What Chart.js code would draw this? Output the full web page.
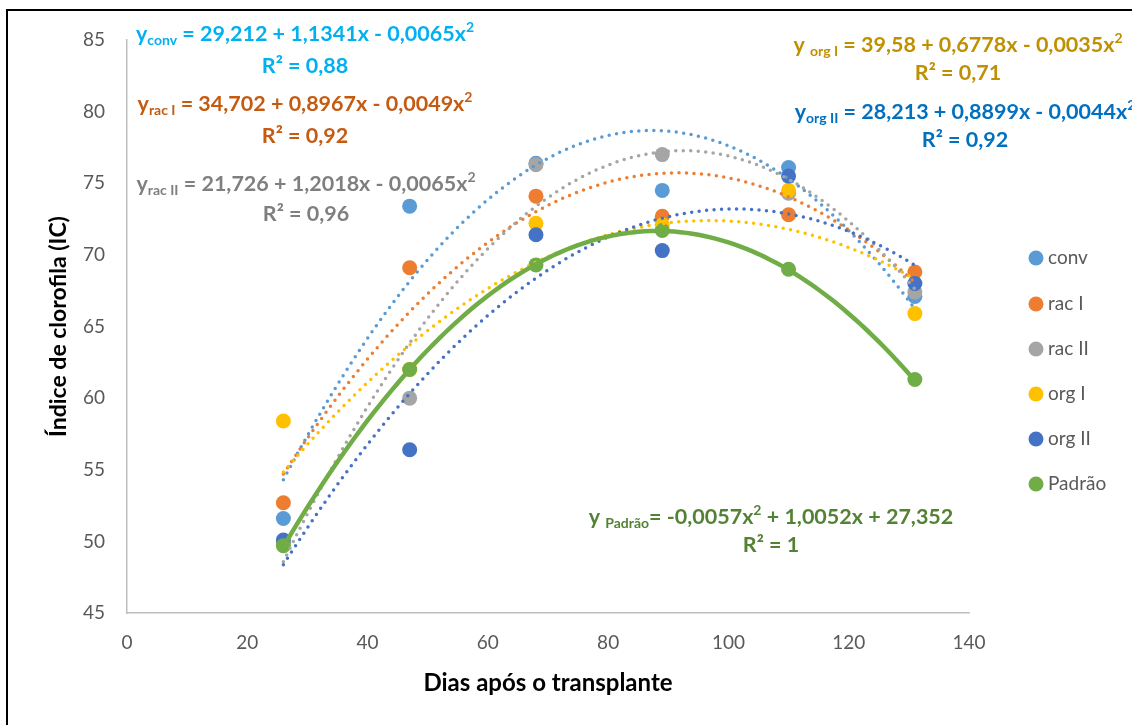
<!DOCTYPE html>
<html>
<head>
<meta charset="utf-8">
<script src="https://cdn.jsdelivr.net/npm/chart.js@4"></script>
<style>
  html, body { margin: 0; padding: 0; background: #fff; overflow: hidden; }
  #frame { position: absolute; left: 6px; top: 9px; width: 1300px; height: 900px; border: 2px solid #000; pointer-events: none; }
</style>
</head>
<body>
<canvas id="chart" width="1132" height="725"></canvas>
<div id="frame"></div>
<script>
// days after transplant
const days = [26, 47, 68, 89, 110, 131];

// chlorophyll index per treatment
const conv   = [51.6, 73.4, 76.4, 74.5, 76.1, 67.1];
const racI   = [52.7, 69.1, 74.1, 72.7, 72.8, 68.8];
const racII  = [49.9, 60.0, 76.3, 77.0, 74.3, 67.4];
const orgI   = [58.4, 62.0, 72.2, 72.1, 74.5, 65.9];
const orgII  = [50.1, 56.4, 71.4, 70.3, 75.5, 68.0];
const padrao = [49.7, 62.0, 69.3, 71.7, 69.0, 61.3];

// trendline coefficients  y = c0 + c1*x + c2*x^2  (from the equations on the chart)
const trendConv   = [29.212, 1.1341, -0.0065];
const trendRacI   = [34.702, 0.8967, -0.0049];
const trendRacII  = [21.726, 1.2018, -0.0065];
const trendOrgI   = [39.58, 0.6778, -0.0035];
const trendOrgII  = [28.213, 0.8899, -0.0044];
const trendPadrao = [27.352, 1.0052, -0.0057];

const seriesNames = ['conv', 'rac I', 'rac II', 'org I', 'org II', 'Padrão'];
const seriesColors = ['#5B9BD5', '#ED7D31', '#A5A5A5', '#FFC000', '#4472C4', '#70AD47'];

const xTicks = [0, 20, 40, 60, 80, 100, 120, 140];
const yTicks = [45, 50, 55, 60, 65, 70, 75, 80, 85];

const allValues = [conv, racI, racII, orgI, orgII, padrao];
const allTrends = [trendConv, trendRacI, trendRacII, trendOrgI, trendOrgII, trendPadrao];

function trendPoints(c) {
  const pts = [];
  for (let x = days[0]; x <= days[days.length - 1]; x += 1) {
    pts.push({ x: x, y: c[0] + c[1] * x + c[2] * x * x });
  }
  return pts;
}

const datasets = [];
allValues.forEach((vals, i) => {
  datasets.push({
    label: seriesNames[i],
    data: days.map((d, k) => ({ x: d, y: vals[k] })),
    backgroundColor: seriesColors[i],
    borderWidth: 0,
    pointRadius: 7.5,
    pointHoverRadius: 7.5,
    showLine: false,
    order: 20 - i
  });
});
allTrends.forEach((c, i) => {
  const isPadrao = i === 5;
  datasets.push({
    label: 'trend ' + seriesNames[i],
    data: trendPoints(c),
    borderColor: seriesColors[i],
    borderWidth: isPadrao ? 4.5 : 3.5,
    borderDash: isPadrao ? [] : [0, 7.5],
    borderCapStyle: 'round',
    pointRadius: 0,
    showLine: true,
    fill: false,
    tension: 0,
    order: 10 - i
  });
});

// equation labels: [text, kind] kind = n | sub | sup
const equations = [
  { parts: [['y', 'n'], ['conv', 'sub'], [' = 29,212 + 1,1341x - 0,0065x', 'n'], ['2', 'sup']], r2: 'R² = 0,88', color: '#00B0F0', cx: 305, cy: 34, ry: 66 },
  { parts: [['y', 'n'], ['rac I', 'sub'], [' = 34,702 + 0,8967x - 0,0049x', 'n'], ['2', 'sup']], r2: 'R² = 0,92', color: '#C55A11', cx: 305, cy: 104, ry: 136 },
  { parts: [['y', 'n'], ['rac II', 'sub'], [' = 21,726 + 1,2018x - 0,0065x', 'n'], ['2', 'sup']], r2: 'R² = 0,96', color: '#7F7F7F', cx: 306, cy: 184, ry: 214 },
  { parts: [['y ', 'n'], ['org I', 'sub'], [' = 39,58 + 0,6778x - 0,0035x', 'n'], ['2', 'sup']], r2: 'R² = 0,71', color: '#BF9000', cx: 958, cy: 45, ry: 73 },
  { parts: [['y', 'n'], ['org II', 'sub'], [' = 28,213 + 0,8899x - 0,0044x', 'n'], ['2', 'sup']], r2: 'R² = 0,92', color: '#0070C0', cx: 965, cy: 112, ry: 140 },
  { parts: [['y ', 'n'], ['Padrão', 'sub'], ['= -0,0057x', 'n'], ['2', 'sup'], [' + 1,0052x + 27,352', 'n']], r2: 'R² = 1', color: '#548235', cx: 771, cy: 517, ry: 545 }
];

function drawEq(ctx, eq, size) {
  const main = 'bold ' + size + 'px Lato';
  const small = 'bold ' + Math.round(size * 0.65) + 'px Lato';
  let w = 0;
  eq.parts.forEach(([t, k]) => {
    ctx.font = k === 'n' ? main : small;
    w += ctx.measureText(t).width;
  });
  let x = eq.cx - w / 2;
  ctx.fillStyle = eq.color;
  ctx.textBaseline = 'middle';
  ctx.textAlign = 'left';
  eq.parts.forEach(([t, k]) => {
    ctx.font = k === 'n' ? main : small;
    const dy = k === 'sub' ? size * 0.3 : (k === 'sup' ? -size * 0.3 : 0);
    ctx.fillText(t, x, eq.cy + dy);
    x += ctx.measureText(t).width;
  });
  ctx.font = main;
  ctx.textAlign = 'center';
  ctx.fillText(eq.r2, eq.cx, eq.ry);
}

const extras = {
  id: 'extras',
  afterDraw(chart) {
    const ctx = chart.ctx;
    ctx.save();
    equations.forEach(eq => drawEq(ctx, eq, 21.5));
    // legend
    const legendY = [258, 304, 349, 394, 439, 484];
    seriesNames.forEach((name, i) => {
      ctx.beginPath();
      ctx.arc(1036, legendY[i], 7.5, 0, Math.PI * 2);
      ctx.fillStyle = seriesColors[i];
      ctx.fill();
      ctx.fillStyle = '#595959';
      ctx.font = '19px Lato';
      ctx.textAlign = 'left';
      ctx.textBaseline = 'middle';
      ctx.fillText(name, 1048, legendY[i]);
    });
    ctx.restore();
  }
};

new Chart(document.getElementById('chart'), {
  type: 'scatter',
  data: { datasets: datasets },
  plugins: [extras],
  options: {
    responsive: false,
    devicePixelRatio: 1,
    animation: false,
    layout: { padding: { top: 40, right: 163, bottom: 0, left: 0 } },
    plugins: {
      legend: { display: false },
      tooltip: { enabled: false }
    },
    scales: {
      x: {
        type: 'linear',
        min: 0,
        max: 140,
        afterBuildTicks: s => { s.ticks = xTicks.map(v => ({ value: v })); },
        afterFit: s => { s.height = 112; },
        grid: { display: false, drawTicks: false },
        border: { display: true, color: '#BFBFBF', width: 1.5 },
        ticks: { color: '#595959', font: { family: 'Lato', size: 19 }, padding: 18 },
        title: {
          display: true,
          text: 'Dias após o transplante',
          color: '#000',
          font: { family: 'Lato', size: 24, weight: 'bold' },
          padding: { top: 0, bottom: 27.6 }
        }
      },
      y: {
        type: 'linear',
        min: 45,
        max: 85,
        afterBuildTicks: s => { s.ticks = yTicks.map(v => ({ value: v })); },
        afterFit: s => { s.width = 127; },
        grid: { display: false, drawTicks: false },
        border: { display: true, color: '#BFBFBF', width: 1.5 },
        ticks: { color: '#595959', font: { family: 'Lato', size: 19 }, padding: 22 },
        title: {
          display: true,
          text: 'Índice de clorofila (IC)',
          color: '#000',
          font: { family: 'Lato', size: 23, weight: 'bold' },
          padding: { top: 45, bottom: 0 }
        }
      }
    }
  }
});
</script>
</body>
</html>
